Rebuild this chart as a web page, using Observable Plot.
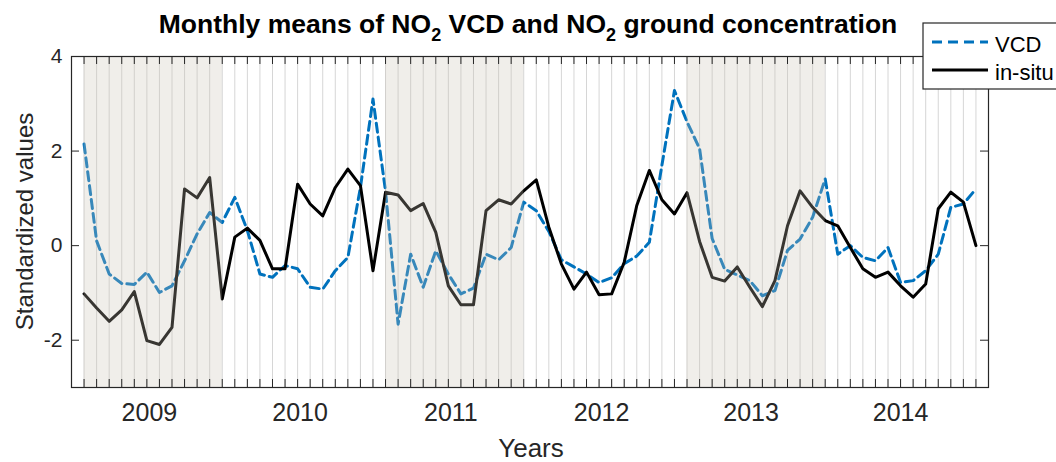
<!DOCTYPE html>
<html><head><meta charset="utf-8">
<script src="https://cdn.jsdelivr.net/npm/d3@7"></script>
<script src="https://cdn.jsdelivr.net/npm/@observablehq/plot@0.6"></script>
<style>body{margin:0;background:#fff}#chart svg{display:block}</style>
</head><body><div id="chart"></div>
<script>
// Monthly standardized values (72 months)
const vcd = [2.15, 0.10, -0.60, -0.80, -0.82, -0.56, -0.99, -0.85, -0.32, 0.25, 0.70, 0.49,
  1.02, 0.32, -0.60, -0.67, -0.42, -0.49, -0.88, -0.92, -0.53, -0.25, 1.23, 3.10,
  1.15, -1.66, -0.18, -0.88, -0.11, -0.60, -1.02, -0.90, -0.18, -0.30, -0.04, 0.92,
  0.74, 0.30, -0.30, -0.45, -0.60, -0.78, -0.68, -0.38, -0.22, 0.07, 1.70, 3.28,
  2.62, 2.05, 0.15, -0.50, -0.62, -0.74, -1.06, -0.95, -0.10, 0.14, 0.60, 1.41,
  -0.18, 0.00, -0.25, -0.32, -0.04, -0.78, -0.74, -0.53, -0.18, 0.81, 0.88, 1.20];
const insitu = [-1.02, -1.32, -1.60, -1.36, -0.97, -2.01, -2.09, -1.73, 1.20, 1.01, 1.44, -1.13,
  0.18, 0.37, 0.11, -0.49, -0.49, 1.30, 0.88, 0.63, 1.23, 1.62, 1.27, -0.53,
  1.13, 1.07, 0.74, 0.89, 0.28, -0.85, -1.25, -1.25, 0.74, 0.97, 0.88, 1.16,
  1.39, 0.39, -0.39, -0.92, -0.56, -1.04, -1.02, -0.35, 0.85, 1.59, 0.97, 0.67,
  1.12, 0.09, -0.67, -0.75, -0.45, -0.88, -1.29, -0.74, 0.42, 1.16, 0.81, 0.53,
  0.42, -0.04, -0.49, -0.67, -0.56, -0.85, -1.09, -0.81, 0.78, 1.13, 0.92, 0.00];
const years = [2009, 2010, 2011, 2012, 2013, 2014];
const yearTickPos = [5.2, 17.2, 29.2, 41.2, 53.1, 65.0];
const shadeStart = [0, 24, 48];
const shadeEnd = [11, 35, 59];
const yTicks = [-2, 0, 2, 4];
const seriesNames = ["VCD", "in-situ"];

const months = d3.range(insitu.length);
const bands = shadeStart.map((s, i) => ({x1: s, x2: shadeEnd[i]}));
const yearLabel = new Map(yearTickPos.map((p, i) => [p, String(years[i])]));

const W = 1056, H = 462, mL = 71, mR = 68, mT = 56, mB = 75;
const fw = W - mL - mR, fh = H - mT - mB, tk = 8;
const FONT = "'Liberation Sans', Arial, Helvetica, sans-serif";
const blue = "#0072BD", ink = "#262626";

const plot = Plot.plot({
  width: W, height: H,
  marginLeft: mL, marginRight: mR, marginTop: mT, marginBottom: mB,
  style: {fontFamily: FONT, fontSize: "21px", color: ink, background: "#fff"},
  x: {domain: [-1, 72], axis: null},
  y: {domain: [-3, 4], axis: null},
  marks: [
    Plot.ruleX(months, {x: d => d, stroke: "#d6d6d6", strokeWidth: 1}),
    Plot.line(vcd, {x: (d, i) => i, y: d => d, stroke: blue, strokeWidth: 3, strokeDasharray: "9,5"}),
    Plot.line(insitu, {x: (d, i) => i, y: d => d, stroke: "#000", strokeWidth: 3}),
    Plot.rect(bands, {x1: "x1", x2: "x2", fill: "#c8c2b4", fillOpacity: 0.28}),
    Plot.ruleX(months, {x: d => d, insetTop: fh - tk, stroke: ink, strokeWidth: 1}),
    Plot.ruleX(months, {x: d => d, insetBottom: fh - tk, stroke: ink, strokeWidth: 1}),
    Plot.ruleY(yTicks, {y: d => d, insetRight: fw - tk, stroke: ink, strokeWidth: 1}),
    Plot.ruleY(yTicks, {y: d => d, insetLeft: fw - tk, stroke: ink, strokeWidth: 1}),
    Plot.frame({stroke: ink, strokeWidth: 1.2}),
    Plot.axisY({ticks: yTicks, tickFormat: d => String(d), tickSize: 0, tickPadding: 9, fontSize: 21, fill: ink, label: null}),
    Plot.axisX({ticks: yearTickPos, tickFormat: d => yearLabel.get(d), tickSize: 0, tickPadding: 16, fontSize: 25, fill: ink, label: null})
  ]
});
document.getElementById("chart").append(plot);

const svg = d3.select(plot);
// Title with subscripts
const t = svg.append("text").attr("x", 528).attr("y", 33).attr("text-anchor", "middle")
  .attr("font-family", FONT).attr("font-weight", "bold").attr("font-size", 26.5).attr("fill", "#000");
t.append("tspan").text("Monthly means of NO");
t.append("tspan").attr("font-size", 18).attr("dy", 8).text("2");
t.append("tspan").attr("dy", -8).text(" VCD and NO");
t.append("tspan").attr("font-size", 18).attr("dy", 8).text("2");
t.append("tspan").attr("dy", -8).text(" ground concentration");

// Axis labels
svg.append("text").attr("transform", `translate(25,${mT + fh / 2}) rotate(-90)`)
  .attr("text-anchor", "middle").attr("dy", "0.35em").attr("font-family", FONT)
  .attr("font-size", 24).attr("fill", ink).text("Standardized values");
svg.append("text").attr("x", 531).attr("y", 457).attr("text-anchor", "middle")
  .attr("font-family", FONT).attr("font-size", 26).attr("fill", ink).text("Years");

// Legend
const lg = svg.append("g").attr("text-anchor", "start");
lg.append("rect").attr("x", 923).attr("y", 23).attr("width", 150).attr("height", 66)
  .attr("fill", "#fff").attr("stroke", ink).attr("stroke-width", 1.2);
lg.append("line").attr("x1", 932).attr("x2", 988).attr("y1", 42).attr("y2", 42)
  .attr("stroke", blue).attr("stroke-width", 3).attr("stroke-dasharray", "10,6");
lg.append("line").attr("x1", 932).attr("x2", 988).attr("y1", 70).attr("y2", 70)
  .attr("stroke", "#000").attr("stroke-width", 3);
lg.append("text").attr("x", 995).attr("y", 52).attr("text-anchor", "start").attr("font-family", FONT)
  .attr("font-size", 22).attr("fill", "#000").text(seriesNames[0]);
lg.append("text").attr("x", 995).attr("y", 80).attr("text-anchor", "start").attr("font-family", FONT)
  .attr("font-size", 22).attr("fill", "#000").text(seriesNames[1]);
</script>
</body></html>
